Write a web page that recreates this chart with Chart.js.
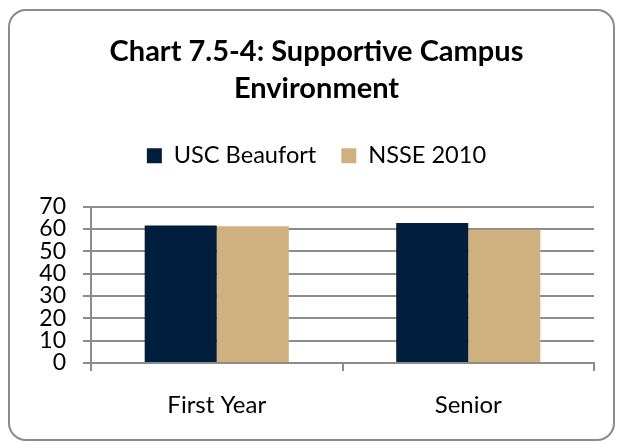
<!DOCTYPE html>
<html>
<head>
<meta charset="utf-8">
<script src="https://cdn.jsdelivr.net/npm/chart.js@4.4.1/dist/chart.umd.min.js"></script>
<style>
  body { margin: 0; background: #fff; }
  .wrap { position: relative; width: 617px; height: 442px; }
  .frame {
    position: absolute; left: 8px; top: 9px; width: 607px; height: 432px;
    box-sizing: border-box; border: 2px solid #8a8a8a; border-radius: 18px;
    pointer-events: none;
  }
  canvas { position: absolute; left: 0; top: 0; }
</style>
</head>
<body>
<div class="wrap">
  <canvas id="chart" width="617" height="442"></canvas>
  <div class="frame"></div>
</div>
<script>
const categorias = ["First Year", "Senior"];
const uscBeaufort = [61.6, 62.7];
const nsse2010 = [61.2, 59.6];
const tituloLinhas = ["Chart 7.5-4: Supportive Campus", "Environment"];

const CINZA = "#8c8c8c";
const FONTE = "Lato";

// empurra a area do grafico para baixo da legenda
const espacoLegenda = {
  id: "espacoLegenda",
  beforeLayout(chart) {
    const lg = chart.legend;
    if (lg && !lg._comEspaco) {
      const fitOriginal = lg.fit;
      lg.fit = function () {
        fitOriginal.call(this);
        this.height += 29;
      };
      lg._comEspaco = true;
    }
  }
};

new Chart(document.getElementById("chart"), {
  type: "bar",
  data: {
    labels: categorias,
    datasets: [
      {
        label: "USC Beaufort",
        data: uscBeaufort,
        backgroundColor: "#011e3c",
        borderWidth: 0,
        categoryPercentage: 0.573,
        barPercentage: 1,
      },
      {
        label: "NSSE 2010",
        data: nsse2010,
        backgroundColor: "#cfb17f",
        borderWidth: 0,
        categoryPercentage: 0.573,
        barPercentage: 1,
      }
    ]
  },
  options: {
    responsive: false,
    animation: false,
    devicePixelRatio: 1,
    layout: { padding: { left: 39, right: 23, top: 0, bottom: 0 } },
    plugins: {
      tooltip: { enabled: false },
      title: {
        display: true,
        text: tituloLinhas,
        color: "#000",
        font: { family: FONTE, size: 29, weight: "bold", lineHeight: 1.276 },
        padding: { top: 33, bottom: 12 },
      },
      legend: {
        display: true,
        position: "top",
        labels: {
          color: "#000",
          boxWidth: 15,
          boxHeight: 15,
          padding: 25,
          font: { family: FONTE, size: 23.6 },
        },
      },
    },
    scales: {
      x: {
        afterFit(scale) { scale.height = 79; },
        ticks: { color: "#000", padding: 20, font: { family: FONTE, size: 24 } },
        grid: { display: true, drawOnChartArea: false, drawTicks: true, tickLength: 8, color: CINZA, lineWidth: 2 },
        border: { display: true, color: CINZA, width: 2 },
      },
      y: {
        min: 0,
        max: 70,
        afterFit(scale) { scale.width = 52; },
        ticks: { stepSize: 10, autoSkip: false, color: "#000", padding: 17, font: { family: FONTE, size: 23 } },
        grid: { color: CINZA, lineWidth: 2, tickLength: 8 },
        border: { display: true, color: CINZA, width: 2 },
      },
    },
  },
  plugins: [espacoLegenda],
});
</script>
</body>
</html>
